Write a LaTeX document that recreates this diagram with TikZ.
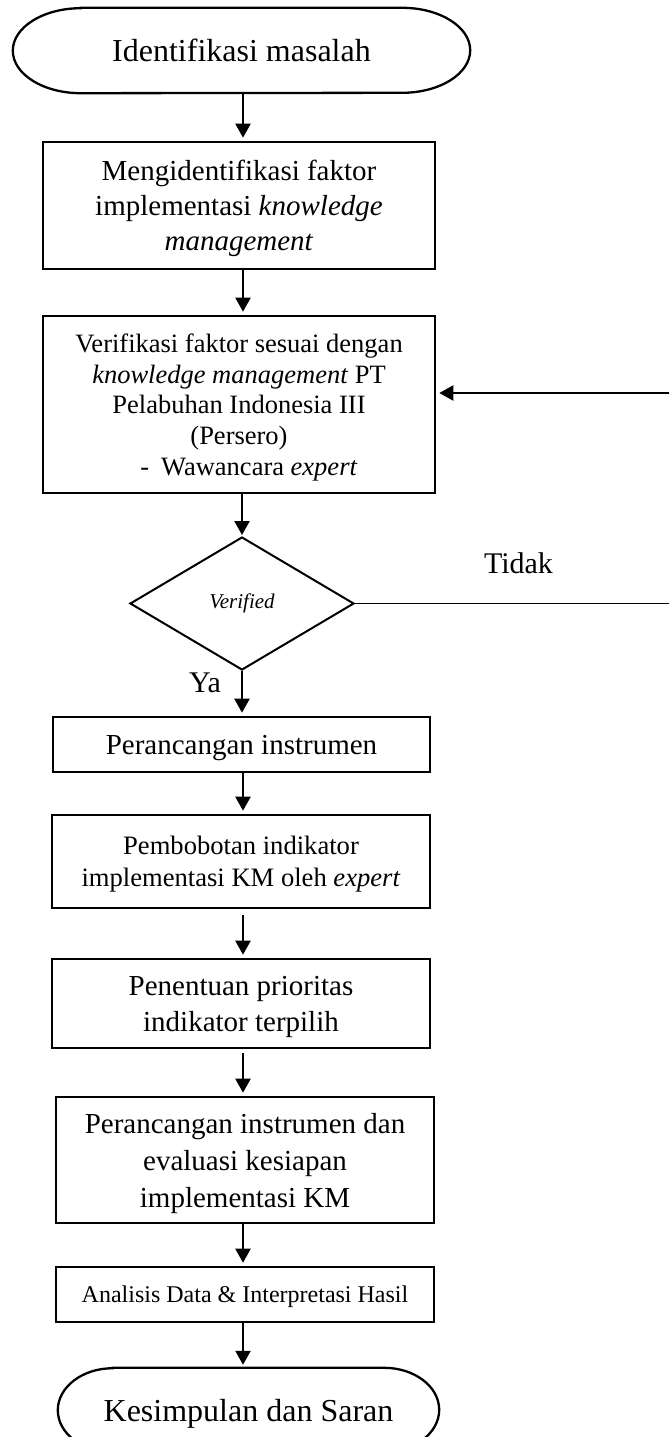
\documentclass[tikz,border=0pt]{standalone}
\usepackage{fontspec}
\setmainfont{Liberation Serif}
\usetikzlibrary{arrows.meta,shapes.geometric,calc}

\begin{document}
\begin{tikzpicture}[x=1pt,y=-1pt,
  procbox/.style={draw,line width=2.6pt,inner sep=0pt,align=center,text depth=0pt},
  termnode/.style={inner sep=0pt,text height=22pt,text depth=0pt,font=\fontsize{32}{38}\selectfont},
  termline/.style={line width=2.3pt},
  conn/.style={line width=2.2pt,-{Triangle[length=14pt,width=15pt]},shorten >=3pt},
  thinline/.style={line width=1.4pt},
  lbl/.style={inner sep=0pt,font=\fontsize{30}{36}\selectfont},
  fbig/.style={font=\fontsize{29}{#1}\selectfont},
  fmid/.style={font=\fontsize{26.5}{#1}\selectfont}
]
\useasboundingbox (0,0) rectangle (669,1437);
\clip (0,0) rectangle (669,1437);

% column along which the main arrows run
\coordinate (spine) at (243,0);

% start terminator
\node[termnode,minimum width=457pt,minimum height=85pt] (t1) at (241.5,50.5) {Identifikasi masalah};
\draw[termline] ([xshift=68pt]t1.north west) -- ([xshift=-68pt]t1.north east)
  arc[start angle=90,end angle=-90,x radius=68pt,y radius=42.5pt]
  -- ([xshift=68pt]t1.south west)
  arc[start angle=270,end angle=90,x radius=68pt,y radius=42.5pt] -- cycle;

% process steps
\node[procbox,fbig=35pt,minimum width=392pt,minimum height=127pt] (b2) at (239,205.5)
  {Mengidentifikasi faktor\\implementasi \textit{knowledge}\\\textit{management}};
\node[procbox,fmid=30.75pt,minimum width=392pt,minimum height=177pt] (b3) at (239,404.5)
  {Verifikasi faktor sesuai dengan\\\textit{knowledge management} PT\\Pelabuhan Indonesia III\\(Persero)\\\hspace*{0.75em}-\hspace{0.45em}Wawancara \textit{expert}};

% decision
\node[shape=diamond,draw,line width=2pt,minimum width=224pt,minimum height=133pt,inner sep=0pt,
  font=\fontsize{21}{25}\selectfont\itshape] (dec) at (242,603.5) {Verified};
\node[lbl] (tidak) at (518.5,563) {Tidak};
\node[lbl] (ya) at (205,683) {Ya};

\node[procbox,fbig=35pt,minimum width=377pt,minimum height=55pt] (b4) at (241.5,744.5)
  {Perancangan instrumen};
\node[procbox,font=\fontsize{26.6}{32}\selectfont,minimum width=378pt,minimum height=93pt] (b5) at (241,861.5)
  {Pembobotan indikator\\implementasi KM oleh \textit{expert}};
\node[procbox,fbig=36pt,minimum width=378pt,minimum height=89pt] (b6) at (241,1003.5)
  {Penentuan prioritas\\indikator terpilih};
\node[procbox,fbig=37pt,minimum width=378pt,minimum height=126pt] (b7) at (245,1160)
  {Perancangan instrumen dan\\evaluasi kesiapan\\implementasi KM};
\node[procbox,font=\fontsize{24}{29}\selectfont,minimum width=378pt,minimum height=55pt] (b8) at (245,1294.5)
  {Analisis Data \& Interpretasi Hasil};

% end terminator
\node[termnode,minimum width=381pt,minimum height=84pt] (t2) at (248.5,1410) {Kesimpulan dan Saran};
\draw[termline] ([xshift=55pt]t2.north west) -- ([xshift=-55pt]t2.north east)
  arc[start angle=90,end angle=-90,x radius=55pt,y radius=42pt]
  -- ([xshift=55pt]t2.south west)
  arc[start angle=270,end angle=90,x radius=55pt,y radius=42pt] -- cycle;

% main flow
\draw[conn] (t1.south -| spine) -- (b2.north -| spine);
\draw[conn] (b2.south -| spine) -- (b3.north -| spine);
\draw[conn,shorten >=1pt] (b3.south -| dec.north) -- (dec.north);
\draw[conn] (dec.south) -- (b4.north -| dec.south);
\draw[conn] (b4.south -| spine) -- (b5.north -| spine);
\draw[conn,shorten <=6pt] (b5.south -| spine) -- (b6.north -| spine);
\draw[conn,shorten <=4pt] (b6.south -| spine) -- (b7.north -| spine);
\draw[conn] (b7.south -| spine) -- (b8.north -| spine);
\draw[conn] (b8.south -| spine) -- (t2.north -| spine);

% "Tidak" branch back to verification
\coordinate (rbot) at (700,603.5);
\coordinate (rtop) at (700,393);
\draw[thinline] (dec.east) -- (rbot);
\draw[conn] (rbot) -- (rtop) -- (rtop -| b3.east);
\end{tikzpicture}
\end{document}
